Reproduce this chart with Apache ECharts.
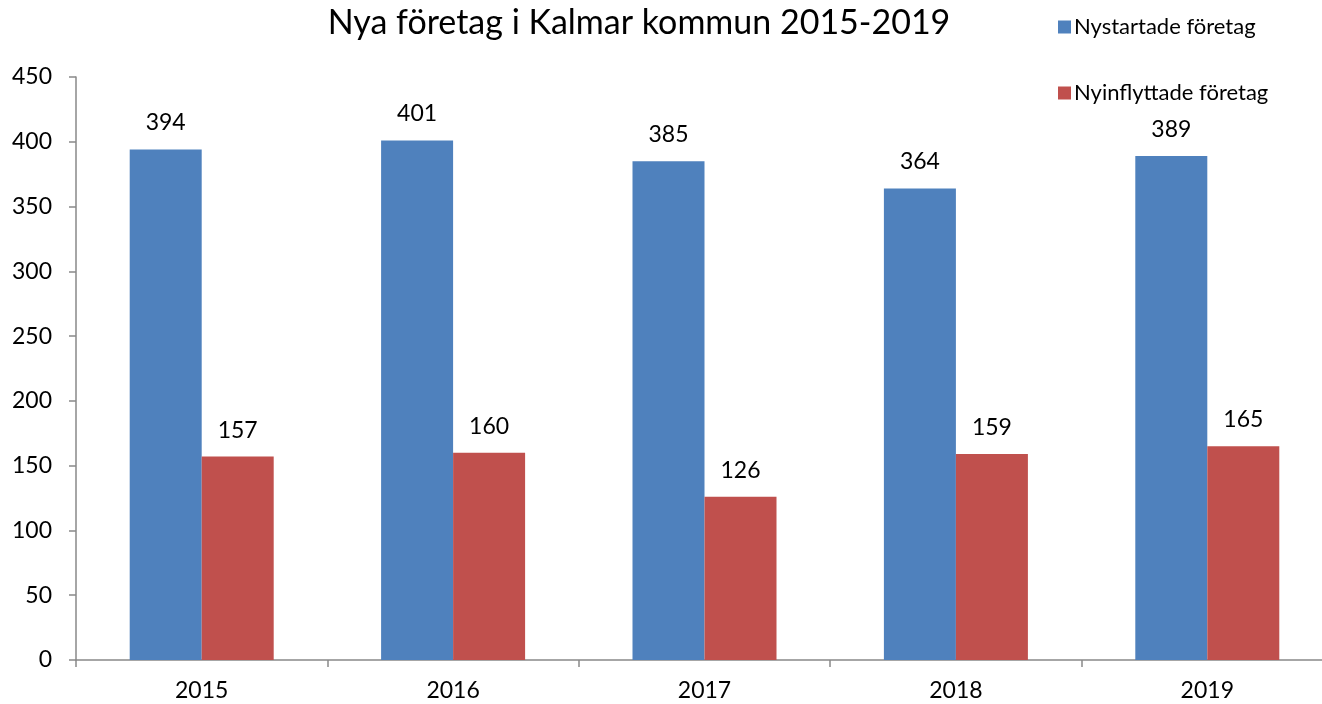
<!DOCTYPE html>
<html>
<head>
<meta charset="utf-8">
<script src="https://cdn.jsdelivr.net/npm/echarts@6/dist/echarts.min.js"></script>
<style>
  html, body { margin: 0; padding: 0; background: #fff; }
  #main { width: 1322px; height: 704px; }
</style>
</head>
<body>
<div id="main"></div>
<script>
// data
var years = ['2015', '2016', '2017', '2018', '2019'];
var nystartade = [394, 401, 385, 364, 389];
var nyinflyttade = [157, 160, 126, 159, 165];

var FONT = 'Lato';
var chart = echarts.init(document.getElementById('main'));

var option = {
  backgroundColor: '#fff',
  animation: false,
  textStyle: { fontFamily: FONT, color: '#000' },
  title: {
    text: 'Nya företag i Kalmar kommun 2015-2019',
    left: 634,
    textAlign: 'center',
    top: 1,
    textStyle: { fontFamily: FONT, fontSize: 34, fontWeight: 'normal', color: '#000' }
  },
  legend: {
    orient: 'vertical',
    left: 1053,
    top: 11,
    itemWidth: 13,
    itemHeight: 13,
    itemGap: 44,
    icon: 'rect',
    textStyle: { fontFamily: FONT, fontSize: 22, color: '#000', padding: [0, 0, 0, -2] },
    data: ['Nystartade företag', 'Nyinflyttade företag']
  },
  // bredare än fönstret: sista kategorin skärs av i högerkanten som i originalet
  grid: { left: 76, width: 1257, top: 77, bottom: 44, containLabel: false, outerBoundsMode: 'none' },
  xAxis: {
    type: 'category',
    data: years,
    axisLine: { lineStyle: { color: '#898989', width: 1.5 } },
    axisTick: { show: true, length: 7, lineStyle: { color: '#898989', width: 1.5 } },
    axisLabel: { fontFamily: FONT, fontSize: 23, color: '#000', margin: 19 }
  },
  yAxis: {
    type: 'value',
    min: 0,
    max: 450,
    interval: 50,
    splitLine: { show: false },
    axisLine: { show: true, lineStyle: { color: '#898989', width: 1.5 } },
    axisTick: { show: true, length: 7, lineStyle: { color: '#898989', width: 1.5 } },
    axisLabel: { fontFamily: FONT, fontSize: 23, color: '#000', margin: 24 }
  },
  series: [
    {
      name: 'Nystartade företag',
      type: 'bar',
      data: nystartade,
      barWidth: 72,
      barGap: '0%',
      itemStyle: { color: '#4F81BD' },
      label: { show: true, position: 'top', distance: 15, fontFamily: FONT, fontSize: 23, color: '#000' }
    },
    {
      name: 'Nyinflyttade företag',
      type: 'bar',
      data: nyinflyttade,
      barWidth: 72,
      barGap: '0%',
      itemStyle: { color: '#C0504D' },
      label: { show: true, position: 'top', distance: 15, fontFamily: FONT, fontSize: 23, color: '#000' }
    }
  ]
};

chart.setOption(option);
</script>
</body>
</html>
